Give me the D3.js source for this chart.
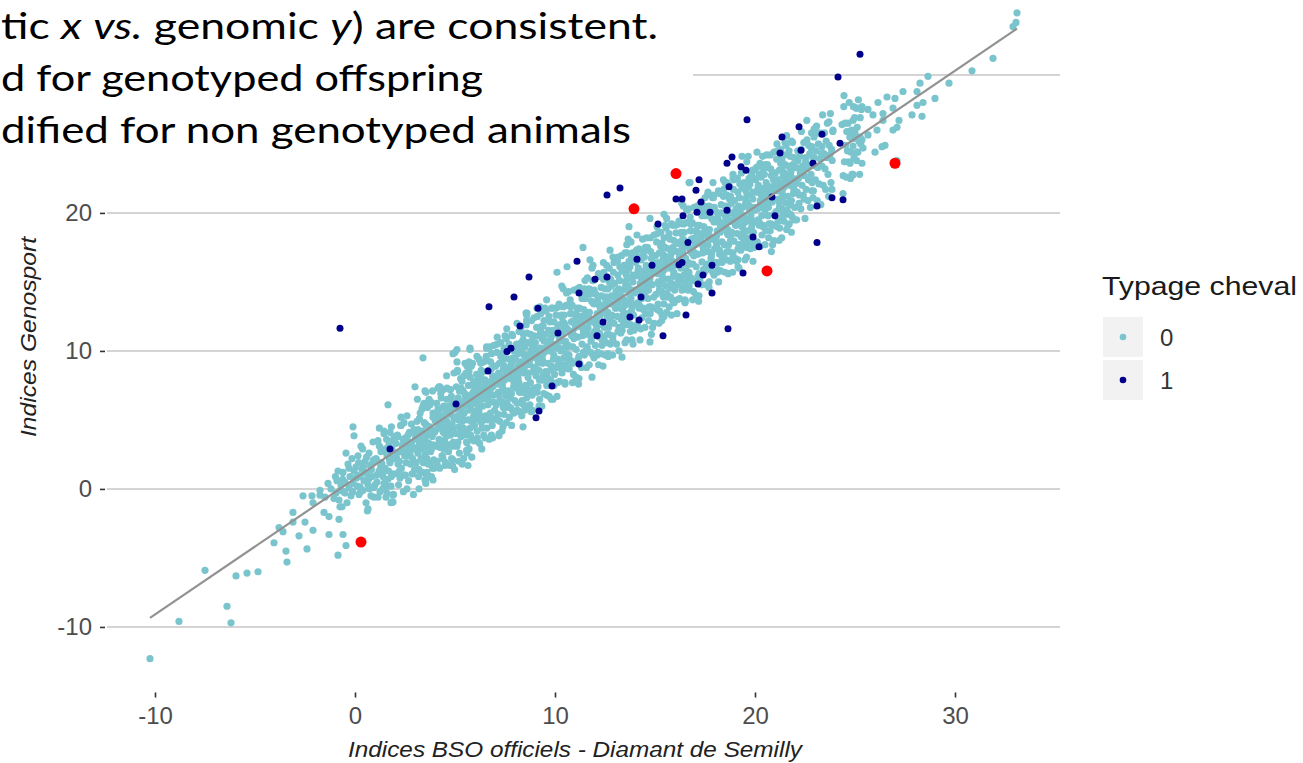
<!DOCTYPE html>
<meta charset="utf-8">
<style>
body { margin: 0; background: #fff; }
svg { display: block; }
.axis text { font-family: "Liberation Sans", Arial, sans-serif; fill: #4d4d4d; font-size: 24px; }
.axis line { stroke: #333; stroke-width: 1.6px; }
.title { font-family: "Liberation Sans", Arial, sans-serif; font-style: italic; font-size: 22px; fill: #222; }
.slide { font-family: Lato, "Open Sans", sans-serif; font-size: 36px; fill: #000; }
</style>
<body>

<script src="https://cdn.jsdelivr.net/npm/d3@7"></script>

<script>

// ---- data ----

// Typage cheval = 0, dense band along the diagonal
var lightCore = [
  [-0.95,-0.3],[-0.9,0.6],[-0.8,-0.8],[-0.7,0.3],[-0.6,1.2],[-0.55,-0.2],[-0.5,0.5],[-0.4,-1.0],[-0.35,1.8],[-0.3,0.1],[-0.25,0.9],[-0.2,-0.5],[-0.15,2.2],[-0.1,0.4],[-0.05,1.3],[-0.85,1.3],[-0.65,-1.3],[-0.45,2.6],
  [-0.98,0.9],[-0.75,-0.1],[-0.62,0.7],[-0.3,1.5],[-0.12,-0.2],[-1.2,0.0],[-1.5,-0.6],[-1.05,-0.7],
  [0.05,1.6],[0.1,0.2],[0.15,2.4],[0.2,-0.4],[0.25,0.9],[0.3,3.1],[0.35,1.4],[0.4,-0.1],[0.45,0.6],[0.5,2.0],[0.55,-1.0],[0.6,1.1],[0.65,0.3],[0.7,2.6],[0.75,1.7],[0.8,-0.5],[0.85,0.9],[0.9,3.4],[0.95,0.1],[0.12,1.0],[0.38,2.9],[0.62,-1.6],[0.88,1.9],[0.48,1.2],[0.72,0.0],
  [0.07,0.8],[0.18,1.9],[0.28,-0.2],[0.42,1.6],[0.58,2.3],[0.68,0.7],[0.82,1.4],[0.93,2.1],
  [1.05,2.2],[1.1,0.5],[1.15,3.5],[1.2,1.3],[1.25,-0.2],[1.3,2.7],[1.35,1.8],[1.4,0.9],[1.45,4.0],[1.5,1.5],[1.55,-0.6],[1.6,2.4],[1.65,0.7],[1.7,3.2],[1.75,1.9],[1.8,0.2],[1.85,2.9],[1.9,1.1],[1.95,3.8],[1.08,1.0],[1.22,4.4],[1.38,0.0],[1.52,2.9],[1.68,1.3],[1.82,4.5],[1.92,-0.4],[1.28,1.6],[1.58,3.6],[1.72,2.3],[1.45,0.4],
  [2.02,2.6],[2.08,1.1],[2.12,3.9],[2.18,0.3],[2.22,2.0],[2.28,4.6],[2.32,1.5],[2.38,3.0],[2.42,-0.2],[2.48,2.4],[2.52,1.0],[2.58,3.5],[2.62,2.8],[2.68,0.6],[2.72,4.1],[2.78,1.8],[2.82,3.3],[2.88,2.2],[2.92,-0.4],[2.98,1.4],[2.05,3.3],[2.15,1.8],[2.25,0.8],[2.35,2.7],[2.45,4.8],[2.55,1.9],[2.65,3.9],[2.75,2.5],[2.85,1.1],[2.95,4.3],[2.4,3.6],[2.6,0.0],[2.7,3.1],[2.9,2.9],[2.3,5.2],
  [3.02,3.6],[3.06,1.9],[3.1,4.9],[3.14,2.6],[3.18,0.9],[3.22,3.4],[3.26,5.5],[3.3,2.2],[3.34,4.2],[3.38,1.2],[3.42,3.0],[3.46,4.8],[3.5,2.5],[3.54,0.4],[3.58,3.9],[3.62,5.9],[3.66,1.8],[3.7,3.3],[3.74,4.5],[3.78,2.7],[3.82,0.9],[3.86,3.8],[3.9,5.2],[3.94,2.1],[3.98,4.1],[3.08,3.0],[3.2,1.4],[3.32,3.8],[3.44,2.0],[3.56,4.6],[3.68,2.9],[3.8,6.3],[3.92,3.2],[3.15,4.3],[3.4,6.0],[3.6,1.2],[3.75,4.0],[3.88,1.5],[3.28,2.9],[3.52,3.5],
  [4.02,4.9],[4.05,3.1],[4.08,6.2],[4.11,2.0],[4.14,4.4],[4.17,5.6],[4.2,3.6],[4.23,1.5],[4.26,4.8],[4.29,6.9],[4.32,3.0],[4.35,5.3],[4.38,2.4],[4.41,4.1],[4.44,6.0],[4.47,3.5],[4.5,5.0],[4.53,1.9],[4.56,4.5],[4.59,6.5],[4.62,3.2],[4.65,5.6],[4.68,2.7],[4.71,4.2],[4.74,7.2],[4.77,3.9],[4.8,5.4],[4.83,2.2],[4.86,4.7],[4.89,6.3],[4.92,3.4],[4.95,5.1],[4.98,1.4],[4.1,5.2],[4.25,3.0],[4.4,5.9],[4.55,3.8],[4.7,6.0],[4.85,5.9],[4.3,4.5],[4.6,4.9],[4.9,4.4],[4.15,7.3],[4.45,2.9],[4.75,1.7],
  [5.02,5.8],[5.04,4.0],[5.07,7.4],[5.1,3.1],[5.13,5.3],[5.16,6.6],[5.19,4.5],[5.22,2.6],[5.25,5.9],[5.28,8.0],[5.31,3.8],[5.34,6.3],[5.37,4.9],[5.4,7.1],[5.43,2.2],[5.46,5.5],[5.49,6.9],[5.52,4.2],[5.55,8.4],[5.58,3.4],[5.61,6.1],[5.64,5.0],[5.67,7.5],[5.7,2.9],[5.73,5.7],[5.76,4.4],[5.79,6.8],[5.82,8.9],[5.85,3.6],[5.88,6.4],[5.91,5.2],[5.94,7.8],[5.97,4.6],[5.06,6.1],[5.18,5.0],[5.3,7.3],[5.42,4.4],[5.54,6.5],[5.66,3.9],[5.78,5.9],[5.9,7.0],[5.12,8.6],[5.36,1.8],[5.6,8.9],[5.84,2.3],[5.24,4.1],[5.48,6.0],[5.72,6.5],[5.96,5.6],[5.33,5.6],
  [6.02,6.9],[6.05,5.1],[6.08,8.3],[6.11,4.2],[6.14,6.4],[6.17,7.7],[6.2,5.6],[6.23,3.3],[6.26,7.0],[6.29,9.1],[6.32,4.8],[6.35,7.3],[6.38,6.0],[6.41,8.5],[6.44,3.9],[6.47,6.6],[6.5,7.9],[6.53,5.3],[6.56,9.6],[6.59,4.4],[6.62,7.1],[6.65,6.1],[6.68,8.6],[6.71,3.6],[6.74,6.8],[6.77,5.5],[6.8,7.8],[6.83,9.8],[6.86,4.6],[6.89,7.4],[6.92,6.3],[6.95,8.9],[6.98,5.7],[6.04,7.4],[6.16,6.0],[6.28,8.1],[6.4,5.2],[6.52,7.0],[6.64,5.0],[6.76,7.2],[6.88,8.2],[6.1,9.6],[6.34,2.9],[6.58,10.3],[6.82,3.9],[6.22,5.0],[6.46,7.4],[6.7,7.7],[6.94,6.8],[6.36,6.5],
  [7.03,8.9],[7.06,6.1],[7.09,9.9],[7.12,5.0],[7.15,7.6],[7.18,8.4],[7.21,6.8],[7.24,4.9],[7.27,8.1],[7.3,10.6],[7.33,6.3],[7.36,9.2],[7.39,7.3],[7.42,8.7],[7.45,5.4],[7.48,7.9],[7.51,9.5],[7.54,6.7],[7.57,10.9],[7.6,5.9],[7.63,8.2],[7.66,7.1],[7.69,9.4],[7.72,5.2],[7.75,8.0],[7.78,6.6],[7.81,9.0],[7.84,11.2],[7.87,5.7],[7.9,8.5],[7.93,7.4],[7.96,10.0],[7.99,6.4],[7.05,7.9],[7.17,7.0],[7.29,9.6],[7.41,6.0],[7.53,8.3],[7.65,6.0],[7.77,8.8],[7.89,9.3],[7.11,11.0],[7.35,4.2],[7.59,11.6],[7.83,4.6],[7.23,6.4],[7.47,8.9],[7.71,8.4],[7.95,7.7],[7.37,7.6],
  [8.02,9.4],[8.05,7.3],[8.08,10.5],[8.11,6.2],[8.14,8.9],[8.17,10.1],[8.2,7.7],[8.23,5.6],[8.26,9.2],[8.29,11.6],[8.32,7.0],[8.35,9.9],[8.38,8.4],[8.41,10.8],[8.44,6.1],[8.47,8.8],[8.5,10.3],[8.53,7.5],[8.56,11.9],[8.59,6.6],[8.62,9.1],[8.65,8.1],[8.68,10.6],[8.71,5.9],[8.74,9.0],[8.77,7.7],[8.8,10.0],[8.83,12.2],[8.86,6.8],[8.89,9.6],[8.92,8.5],[8.95,11.1],[8.98,7.3],[8.04,8.6],[8.16,8.0],[8.28,10.4],[8.4,7.2],[8.52,9.2],[8.64,7.0],[8.76,9.8],[8.88,10.3],[8.1,12.0],[8.34,5.3],[8.58,12.6],[8.82,5.6],[8.22,7.0],[8.46,9.7],[8.7,9.5],[8.94,8.8],[8.36,8.5],
  [9.02,10.6],[9.05,8.2],[9.08,11.7],[9.11,7.0],[9.14,9.8],[9.17,11.1],[9.2,8.6],[9.23,6.5],[9.26,10.2],[9.29,12.7],[9.32,7.9],[9.35,10.9],[9.38,9.3],[9.41,11.8],[9.44,6.9],[9.47,9.9],[9.5,11.2],[9.53,8.5],[9.56,12.9],[9.59,7.5],[9.62,10.1],[9.65,9.1],[9.68,11.5],[9.71,6.7],[9.74,10.0],[9.77,8.6],[9.8,11.0],[9.83,13.1],[9.86,7.7],[9.89,10.5],[9.92,9.4],[9.95,12.1],[9.98,8.3],[9.04,9.5],[9.16,9.1],[9.28,11.4],[9.4,8.2],[9.52,10.2],[9.64,8.0],[9.76,10.7],[9.88,11.3],[9.1,13.1],[9.34,6.0],[9.58,13.7],[9.82,6.5],[9.22,7.9],[9.46,10.7],[9.7,10.6],[9.94,9.7],[9.36,9.6],
  [10.02,10.4],[10.05,12.6],[10.08,8.8],[10.11,11.2],[10.14,9.4],[10.17,13.2],[10.2,10.2],[10.23,7.8],[10.26,11.9],[10.29,10.0],[10.32,12.5],[10.35,8.6],[10.38,11.3],[10.41,14.5],[10.44,9.5],[10.47,12.0],[10.5,7.6],[10.53,10.7],[10.56,13.3],[10.59,9.5],[10.62,11.6],[10.65,10.3],[10.68,14.3],[10.71,8.7],[10.74,11.4],[10.77,12.7],[10.8,9.3],[10.83,11.1],[10.86,13.3],[10.89,10.3],[10.92,8.3],[10.95,12.2],[10.98,11.1],[10.04,13.1],[10.16,9.0],[10.28,11.1],[10.4,12.1],[10.52,10.3],[10.64,8.7],[10.76,13.7],[10.88,11.4],[10.1,6.7],[10.34,14.7],[10.58,9.8],[10.82,12.1],[10.22,10.8],[10.46,12.6],[10.7,9.7],[10.94,10.9],[10.36,11.5],
  [11.98,11.4],[11.95,13.4],[11.92,15.1],[11.89,9.7],[11.86,12.1],[11.83,13.6],[11.8,10.7],[11.77,14.4],[11.74,12.3],[11.71,9.0],[11.68,12.7],[11.65,11.65],[11.62,15.3],[11.59,10.2],[11.56,12.5],[11.53,13.8],[11.5,11.2],[11.47,9.7],[11.44,13.0],[11.41,11.8],[11.38,14.3],[11.35,10.5],[11.32,8.8],[11.29,12.5],[11.26,11.8],[11.23,14.6],[11.2,9.6],[11.17,12.0],[11.14,11.0],[11.11,13.1],[11.08,12.6],[11.05,8.1],[11.02,11.7],[11.96,14.4],[11.84,11.1],[11.72,12.8],[11.6,10.3],[11.48,14.5],[11.36,11.7],[11.24,9.1],[11.12,13.0],[11.9,16.2],[11.66,11.2],[11.42,11.4],[11.18,7.6],[11.78,14.4],[11.54,12.8],[11.3,12.2],[11.06,10.1],[11.64,12.2],
  [12.98,14.9],[12.95,12.0],[12.92,15.7],[12.89,10.8],[12.86,13.4],[12.83,14.0],[12.8,12.4],[12.77,10.5],[12.74,13.5],[12.71,16.0],[12.68,11.7],[12.65,14.5],[12.62,12.5],[12.59,13.9],[12.56,10.6],[12.53,12.9],[12.5,14.5],[12.47,11.7],[12.44,15.7],[12.41,10.7],[12.38,13.0],[12.35,11.9],[12.32,14.0],[12.29,9.8],[12.26,12.6],[12.23,11.0],[12.2,13.4],[12.17,15.6],[12.14,9.9],[12.11,12.7],[12.08,11.6],[12.05,14.1],[12.02,10.4],[12.96,13.9],[12.84,12.6],[12.72,15.0],[12.6,11.2],[12.48,13.3],[12.36,10.8],[12.24,13.2],[12.12,13.5],[12.9,16.8],[12.66,9.6],[12.42,16.4],[12.18,9.0],[12.78,12.0],[12.54,13.9],[12.3,13.0],[12.06,11.9],[12.64,12.8],
  [13.98,14.4],[13.95,16.5],[13.92,12.6],[13.89,15.0],[13.86,13.2],[13.83,16.8],[13.8,13.8],[13.77,11.4],[13.74,15.3],[13.71,13.4],[13.68,15.9],[13.65,11.9],[13.62,14.5],[13.59,17.7],[13.56,12.7],[13.53,15.0],[13.5,10.6],[13.47,13.7],[13.44,16.1],[13.41,12.3],[13.38,14.4],[13.35,13.0],[13.32,16.9],[13.29,11.3],[13.26,14.0],[13.23,15.1],[13.2,11.7],[13.17,13.5],[13.14,15.5],[13.11,12.5],[13.08,10.5],[13.05,14.3],[13.02,13.1],[13.96,17.1],[13.84,12.6],[13.72,14.5],[13.6,15.3],[13.48,13.3],[13.36,11.5],[13.24,16.1],[13.12,13.6],[13.9,10.5],[13.66,18.1],[13.42,12.6],[13.18,14.5],[13.78,14.4],[13.54,15.6],[13.3,12.3],[13.06,13.1],[13.64,14.7],
  [14.02,13.4],[14.05,15.45],[14.08,17.3],[14.11,11.9],[14.14,14.3],[14.17,16.0],[14.2,13.1],[14.23,16.8],[14.26,14.9],[14.29,11.6],[14.32,15.3],[14.35,14.4],[14.38,18.1],[14.41,13.0],[14.44,15.3],[14.47,16.8],[14.5,14.2],[14.53,12.7],[14.56,16.2],[14.59,15.0],[14.62,17.5],[14.65,13.8],[14.68,12.2],[14.71,15.9],[14.74,15.2],[14.77,18.2],[14.8,13.2],[14.83,15.6],[14.86,14.8],[14.89,16.9],[14.92,16.4],[14.95,12.0],[14.98,15.7],[14.04,16.4],[14.16,13.5],[14.28,15.4],[14.4,13.1],[14.52,17.5],[14.64,14.9],[14.76,12.7],[14.88,16.8],[14.1,18.4],[14.34,13.8],[14.58,14.6],[14.82,11.2],[14.22,16.8],[14.46,15.8],[14.7,15.6],[14.94,13.9],[14.36,15.0],
  [15.02,16.9],[15.05,14.1],[15.08,17.9],[15.11,13.0],[15.14,15.6],[15.17,16.4],[15.2,14.8],[15.23,12.9],[15.26,16.1],[15.29,18.6],[15.32,14.3],[15.35,17.15],[15.38,15.3],[15.41,16.7],[15.44,13.4],[15.47,15.9],[15.5,17.5],[15.53,14.7],[15.56,18.9],[15.59,13.9],[15.62,16.2],[15.65,15.2],[15.68,17.4],[15.71,13.2],[15.74,16.0],[15.77,14.6],[15.8,17.0],[15.83,19.2],[15.86,13.7],[15.89,16.5],[15.92,15.4],[15.95,18.0],[15.98,14.4],[15.04,15.9],[15.16,15.0],[15.28,17.6],[15.4,14.0],[15.52,16.3],[15.64,14.0],[15.76,16.8],[15.88,17.3],[15.1,19.0],[15.34,12.2],[15.58,19.6],[15.82,12.6],[15.22,14.4],[15.46,16.9],[15.7,16.4],[15.94,15.7],[15.36,15.6],
  [16.02,16.4],[16.05,18.55],[16.08,14.8],[16.11,17.2],[16.14,15.4],[16.17,19.2],[16.2,16.2],[16.23,13.8],[16.26,17.9],[16.29,16.0],[16.32,18.5],[16.35,14.55],[16.38,17.3],[16.41,20.5],[16.44,15.5],[16.47,18.0],[16.5,13.6],[16.53,16.7],[16.56,19.3],[16.59,15.5],[16.62,17.6],[16.65,16.25],[16.68,20.3],[16.71,14.7],[16.74,17.4],[16.77,18.7],[16.8,15.3],[16.83,17.1],[16.86,19.3],[16.89,16.3],[16.92,14.3],[16.95,18.15],[16.98,17.1],[16.04,19.1],[16.16,15.0],[16.28,17.1],[16.4,18.1],[16.52,16.3],[16.64,14.7],[16.76,19.7],[16.88,17.4],[16.1,12.7],[16.34,20.7],[16.58,15.8],[16.82,18.1],[16.22,16.8],[16.46,18.6],[16.7,15.7],[16.94,16.9],[16.36,17.5],
  [17.98,17.4],[17.95,19.35],[17.92,21.1],[17.89,15.7],[17.86,18.1],[17.83,19.6],[17.8,16.7],[17.77,20.4],[17.74,18.3],[17.71,15.0],[17.68,18.7],[17.65,17.65],[17.62,21.3],[17.59,16.2],[17.56,18.5],[17.53,19.8],[17.5,17.2],[17.47,15.7],[17.44,19.0],[17.41,17.8],[17.38,20.3],[17.35,16.45],[17.32,14.8],[17.29,18.5],[17.26,17.8],[17.23,20.6],[17.2,15.6],[17.17,18.0],[17.14,17.0],[17.11,19.1],[17.08,18.6],[17.05,14.05],[17.02,17.7],[17.96,20.4],[17.84,17.1],[17.72,18.8],[17.6,16.3],[17.48,20.5],[17.36,17.7],[17.24,15.1],[17.12,19.0],[17.9,22.2],[17.66,17.2],[17.42,17.4],[17.18,13.6],[17.78,20.4],[17.54,18.8],[17.3,18.2],[17.06,16.1],[17.64,18.2],
  [18.98,20.9],[18.95,17.95],[18.92,21.7],[18.89,16.8],[18.86,19.4],[18.83,20.0],[18.8,18.4],[18.77,16.5],[18.74,19.5],[18.71,22.0],[18.68,17.7],[18.65,20.5],[18.62,18.5],[18.59,19.9],[18.56,16.6],[18.53,18.9],[18.5,20.5],[18.47,17.7],[18.44,21.7],[18.41,16.7],[18.38,19.0],[18.35,17.9],[18.32,20.0],[18.29,15.8],[18.26,18.6],[18.23,17.0],[18.2,19.4],[18.17,21.6],[18.14,15.9],[18.11,18.7],[18.08,17.6],[18.05,20.1],[18.02,16.4],[18.96,19.9],[18.84,18.6],[18.72,21.0],[18.6,17.2],[18.48,19.3],[18.36,16.8],[18.24,19.2],[18.12,19.5],[18.9,22.8],[18.66,15.6],[18.42,22.4],[18.18,15.0],[18.78,18.0],[18.54,19.9],[18.3,19.0],[18.06,17.9],[18.64,18.8],
  [19.98,20.4],[19.95,22.5],[19.92,18.6],[19.89,21.0],[19.86,19.2],[19.83,22.8],[19.8,19.8],[19.77,17.4],[19.74,21.3],[19.71,19.4],[19.68,21.9],[19.65,17.9],[19.62,20.5],[19.59,23.7],[19.56,18.7],[19.53,21.0],[19.5,16.6],[19.47,19.7],[19.44,22.1],[19.41,18.3],[19.38,20.4],[19.35,19.0],[19.32,22.9],[19.29,17.3],[19.26,20.0],[19.23,21.1],[19.2,17.7],[19.17,19.5],[19.14,21.5],[19.11,18.5],[19.08,16.5],[19.05,20.3],[19.02,19.1],[19.96,23.1],[19.84,18.6],[19.72,20.5],[19.6,21.3],[19.48,19.3],[19.36,17.5],[19.24,22.1],[19.12,19.6],[19.9,16.5],[19.66,24.1],[19.42,18.6],[19.18,20.5],[19.78,20.4],[19.54,21.6],[19.3,18.3],[19.06,19.1],[19.64,20.7],
  [20.02,19.4],[20.05,21.5],[20.08,23.3],[20.11,17.9],[20.14,20.3],[20.17,22.0],[20.2,19.1],[20.23,22.8],[20.26,20.9],[20.29,17.6],[20.32,21.3],[20.35,20.4],[20.38,24.1],[20.41,19.0],[20.44,21.3],[20.47,22.8],[20.5,20.2],[20.53,18.7],[20.56,22.2],[20.59,21.0],[20.62,23.5],[20.65,19.8],[20.68,18.2],[20.71,21.9],[20.74,21.2],[20.77,24.2],[20.8,19.2],[20.83,21.6],[20.86,20.8],[20.89,22.9],[20.92,22.4],[20.95,18.0],[20.98,21.7],[20.04,22.4],[20.16,19.5],[20.28,21.4],[20.4,19.1],[20.52,23.5],[20.64,20.9],[20.76,18.7],[20.88,22.8],[20.1,24.4],[20.34,19.8],[20.58,20.6],[20.82,17.2],[20.22,22.8],[20.46,21.8],[20.7,21.6],[20.94,19.9],[20.36,21.0],
  [21.02,22.9],[21.05,20.1],[21.08,23.9],[21.11,19.0],[21.14,21.6],[21.17,22.4],[21.2,20.8],[21.23,18.9],[21.26,22.1],[21.29,24.6],[21.32,20.3],[21.35,23.2],[21.38,21.3],[21.41,22.7],[21.44,19.4],[21.47,21.9],[21.5,23.5],[21.53,20.7],[21.56,24.9],[21.59,19.9],[21.62,22.2],[21.65,21.2],[21.68,23.4],[21.71,19.2],[21.74,22.0],[21.77,20.6],[21.8,23.0],[21.83,25.2],[21.86,19.7],[21.89,22.5],[21.92,21.4],[21.95,24.0],[21.98,20.4],[21.04,21.9],[21.16,21.0],[21.28,23.6],[21.4,20.0],[21.52,22.3],[21.64,20.0],[21.76,22.8],[21.88,23.3],[21.1,25.0],[21.34,18.2],[21.58,25.6],[21.82,18.6],[21.22,20.4],[21.46,22.9],[21.7,22.4],[21.94,21.7],[21.36,21.6],
  [22.98,23.4],[22.95,25.5],[22.92,21.6],[22.89,24.0],[22.86,22.2],[22.83,25.8],[22.8,22.8],[22.77,20.4],[22.74,24.3],[22.71,22.4],[22.68,24.9],[22.65,20.9],[22.62,23.5],[22.59,26.7],[22.56,21.7],[22.53,24.0],[22.5,19.6],[22.47,22.7],[22.44,25.1],[22.41,21.3],[22.38,23.4],[22.35,22.0],[22.32,25.9],[22.29,20.3],[22.26,23.0],[22.23,24.1],[22.2,20.7],[22.17,22.5],[22.14,24.5],[22.11,21.5],[22.08,19.5],[22.05,23.3],[22.02,22.1],[22.96,26.1],[22.84,21.6],
  [23.02,22.4],[23.05,24.5],[23.08,26.3],[23.11,20.9],[23.14,23.3],[23.17,25.0],[23.2,22.1],[23.23,25.8],[23.26,23.9],[23.29,20.6],[23.32,24.3],[23.35,23.4],[23.38,27.1],[23.41,22.0],[23.44,24.3],[23.47,25.8],[23.5,23.2],[23.53,21.7],[23.56,25.2],[23.59,24.0],[23.62,26.5],[23.65,22.8],[23.68,21.2],[23.71,24.9],[23.74,24.2],[23.77,27.2],[23.8,22.2],[23.83,24.6],[23.86,23.8],[23.89,25.9],
  [24.98,26.9],[24.95,24.0],[24.92,27.7],[24.89,22.8],[24.86,25.4],[24.83,26.0],[24.8,24.4],[24.77,22.5],[24.74,25.5],[24.71,28.0],[24.68,23.7],[24.65,26.5],[24.62,24.5],[24.59,25.9],[24.56,22.6],[24.53,24.9],[24.5,26.5],[24.47,23.7],[24.44,27.7],[24.41,22.7],
  [25.02,25.4],[25.05,27.6],[25.08,23.8],[25.11,26.2],[25.14,24.4],[25.17,28.2],[25.2,25.2],[25.23,22.8],[25.26,26.9],[25.29,25.0],[25.32,27.5],[25.35,23.6]
];

// Typage cheval = 0, second pass over the middle of the band (it is almost solid there)
var lightMid = [
  [1.97,2.2],[1.9,3.5],[1.82,0.9],[1.75,4.1],[1.67,2.5],[1.6,0.2],[1.53,2.7],[1.45,4.2],[1.38,1.1],[1.31,1.9],[1.22,3.1],[1.15,-0.6],[1.07,2.1],[1.73,2.1],
  [2.07,2.3],[2.15,3.8],[2.22,1.3],[2.31,4.6],[2.38,3.2],[2.45,1.0],[2.53,3.7],[2.6,5.3],[2.67,2.4],[2.75,3.4],[2.82,4.7],[2.9,1.1],[2.97,4.0],[2.27,2.7],
  [3.97,4.2],[3.9,5.5],[3.82,2.9],[3.75,6.1],[3.67,4.5],[3.6,2.2],[3.53,4.7],[3.45,6.2],[3.38,3.1],[3.31,3.9],[3.22,5.1],[3.15,1.4],[3.07,4.1],[3.73,4.1],
  [4.07,4.3],[4.15,5.8],[4.22,3.3],[4.31,6.6],[4.38,5.2],[4.45,3.0],[4.53,5.7],[4.6,7.3],[4.67,4.4],[4.75,5.4],[4.82,6.7],[4.9,3.1],[4.97,6.0],[4.27,4.7],
  [5.97,6.2],[5.9,7.5],[5.82,4.9],[5.75,8.1],[5.67,6.5],[5.6,4.2],[5.53,6.7],[5.45,8.2],[5.38,5.1],[5.31,5.9],[5.22,7.1],[5.15,3.4],[5.07,6.1],[5.73,6.1],
  [6.07,6.3],[6.15,7.8],[6.22,5.3],[6.31,8.6],[6.38,7.2],[6.45,5.0],[6.53,7.7],[6.6,9.3],[6.67,6.4],[6.75,7.4],[6.82,8.7],[6.9,5.1],[6.97,8.0],[6.27,6.7],
  [7.97,8.2],[7.9,9.5],[7.82,6.9],[7.75,10.1],[7.67,8.5],[7.6,6.2],[7.53,8.7],[7.45,10.2],[7.38,7.1],[7.31,7.9],[7.22,9.1],[7.15,5.4],[7.07,8.1],[7.73,8.1],
  [8.07,8.3],[8.15,9.8],[8.22,7.3],[8.31,10.6],[8.38,9.2],[8.45,7.0],[8.53,9.7],[8.6,11.3],[8.67,8.4],[8.75,9.4],[8.82,10.7],[8.9,7.1],[8.97,10.0],[8.27,8.7],
  [9.97,10.2],[9.9,11.5],[9.82,8.9],[9.75,12.1],[9.67,10.5],[9.6,8.2],[9.53,10.7],[9.45,12.2],[9.38,9.1],[9.31,9.9],[9.22,11.1],[9.15,7.4],[9.07,10.1],[9.73,10.1],
  [10.07,10.3],[10.15,11.8],[10.22,9.3],[10.31,12.6],[10.38,11.2],[10.45,9.0],[10.53,11.7],[10.6,13.3],[10.67,10.4],[10.75,11.4],[10.82,12.7],[10.9,9.1],[10.97,12.0],[10.27,10.7],
  [11.97,12.2],[11.9,13.5],[11.82,10.9],[11.75,14.1],[11.67,12.5],[11.6,10.2],[11.53,12.7],[11.45,14.2],[11.38,11.1],[11.31,11.9],[11.22,13.1],[11.15,9.4],[11.07,12.1],[11.73,12.1],
  [12.07,12.3],[12.15,13.8],[12.22,11.3],[12.31,14.6],[12.38,13.2],[12.45,11.0],[12.53,13.7],[12.6,15.3],[12.67,12.4],[12.75,13.4],[12.82,14.7],[12.9,11.1],[12.97,14.0],[12.27,12.7],
  [13.97,14.2],[13.9,15.5],[13.82,12.9],[13.75,16.1],[13.67,14.5],[13.6,12.2],[13.53,14.7],[13.45,16.2],[13.38,13.1],[13.31,13.9],[13.22,15.1],[13.15,11.4],[13.07,14.1],[13.73,14.1],
  [14.07,14.3],[14.15,15.8],[14.22,13.3],[14.31,16.6],[14.38,15.2],[14.45,13.0],[14.53,15.7],[14.6,17.3],[14.67,14.4],[14.75,15.4],[14.82,16.7],[14.9,13.1],[14.97,16.0],[14.27,14.7],
  [15.97,16.2],[15.9,17.5],[15.82,14.9],[15.75,18.1],[15.67,16.5],[15.6,14.2],[15.53,16.7],[15.45,18.2],[15.38,15.1],[15.31,15.9],[15.22,17.1],[15.15,13.4],[15.07,16.1],[15.73,16.1],
  [16.07,16.3],[16.15,17.8],[16.22,15.3],[16.31,18.6],[16.38,17.2],[16.45,15.0],[16.53,17.7],[16.6,19.3],[16.67,16.4],[16.75,17.4],[16.82,18.7],[16.9,15.1],[16.97,18.0],[16.27,16.7],
  [17.97,18.2],[17.9,19.5],[17.82,16.9],[17.75,20.1],[17.67,18.5],[17.6,16.2],[17.53,18.7],[17.45,20.2],[17.38,17.1],[17.31,17.9],[17.22,19.1],[17.15,15.4],[17.07,18.1],[17.73,18.1],
  [18.07,18.3],[18.15,19.8],[18.22,17.3],[18.31,20.6],[18.38,19.2],[18.45,17.0],[18.53,19.7],[18.6,21.3],[18.67,18.4],[18.75,19.4],[18.82,20.7],[18.9,17.1],[18.97,20.0],[18.27,18.7],
  [19.97,20.2],[19.9,21.5],[19.82,18.9],[19.75,22.1],[19.67,20.5],[19.6,18.2],[19.53,20.7],[19.45,22.2],[19.38,19.1],[19.31,19.9],[19.22,21.1],[19.15,17.4],[19.07,20.1],[19.73,20.1],
  [20.07,20.3],[20.15,21.8],[20.22,19.3],[20.31,22.6],[20.38,21.2],[20.45,19.0],[20.53,21.7],[20.6,23.3],[20.67,20.4],[20.75,21.4],[20.82,22.7],[20.9,19.1],[20.97,22.0],[20.27,20.7],
  [21.97,22.2],[21.9,23.5],[21.82,20.9],[21.75,24.1],[21.67,22.5],[21.6,20.2],[21.53,22.7],[21.45,24.2],[21.38,21.1],[21.31,21.9],[21.22,23.1],[21.15,19.4],[21.07,22.1],[21.73,22.1],
  [22.07,22.3],[22.15,23.8],[22.22,21.3],[22.31,24.6],[22.38,23.2],[22.45,21.0],[22.53,23.7],[22.6,25.3],[22.67,22.4],[22.75,23.4],[22.82,24.7],[22.9,21.1],[22.97,24.0],[22.27,22.7]
];

// Typage cheval = 0, the outer edges of the band
var lightEdge = [
  [3.95,1.5],[3.88,7.1],[3.78,1.9],[3.7,6.5],[3.58,0.8],[3.5,7.1],[3.42,1.9],[3.35,5.8],[3.2,0.0],[3.12,6.5],
  [4.12,1.7],[4.2,7.4],[4.35,2.4],[4.42,7.2],[4.5,1.7],[4.58,8.2],[4.7,3.2],[4.78,7.2],[4.88,1.7],[4.95,8.4],
  [5.95,3.5],[5.88,9.1],[5.78,3.9],[5.7,8.5],[5.58,2.8],[5.5,9.1],[5.42,3.9],[5.35,7.8],[5.2,2.0],[5.12,8.5],
  [6.12,3.7],[6.2,9.4],[6.35,4.4],[6.42,9.2],[6.5,3.7],[6.58,10.2],[6.7,5.2],[6.78,9.2],[6.88,3.7],[6.95,10.4],
  [7.95,5.5],[7.88,11.1],[7.78,5.9],[7.7,10.5],[7.58,4.8],[7.5,11.1],[7.42,5.9],[7.35,9.8],[7.2,4.0],[7.12,10.5],
  [8.12,5.7],[8.2,11.4],[8.35,6.4],[8.42,11.2],[8.5,5.7],[8.58,12.2],[8.7,7.2],[8.78,11.2],[8.88,5.7],[8.95,12.4],
  [9.95,7.5],[9.88,13.1],[9.78,7.9],[9.7,12.5],[9.58,6.8],[9.5,13.1],[9.42,7.9],[9.35,11.8],[9.2,6.0],[9.12,12.5],
  [10.12,7.7],[10.2,13.4],[10.35,8.4],[10.42,13.2],[10.5,7.7],[10.58,14.2],[10.7,9.2],[10.78,13.2],[10.88,7.7],[10.95,14.4],
  [11.95,9.5],[11.88,15.1],[11.78,9.9],[11.7,14.5],[11.58,8.8],[11.5,15.1],[11.42,9.9],[11.35,13.8],[11.2,8.0],[11.12,14.5],
  [12.12,9.7],[12.2,15.4],[12.35,10.4],[12.42,15.2],[12.5,9.7],[12.58,16.2],[12.7,11.2],[12.78,15.2],[12.88,9.7],[12.95,16.4],
  [13.95,11.5],[13.88,17.1],[13.78,11.9],[13.7,16.5],[13.58,10.8],[13.5,17.1],[13.42,11.9],[13.35,15.8],[13.2,10.0],[13.12,16.5],
  [14.12,11.7],[14.2,17.4],[14.35,12.4],[14.42,17.2],[14.5,11.7],[14.58,18.2],[14.7,13.2],[14.78,17.2],[14.88,11.7],[14.95,18.4],
  [15.95,13.5],[15.88,19.1],[15.78,13.9],[15.7,18.5],[15.58,12.8],[15.5,19.1],[15.42,13.9],[15.35,17.8],[15.2,12.0],[15.12,18.5],
  [16.12,13.7],[16.2,19.4],[16.35,14.4],[16.42,19.2],[16.5,13.7],[16.58,20.2],[16.7,15.2],[16.78,19.2],[16.88,13.7],[16.95,20.4],
  [17.95,15.5],[17.88,21.1],[17.78,15.9],[17.7,20.5],[17.58,14.8],[17.5,21.1],[17.42,15.9],[17.35,19.8],[17.2,14.0],[17.12,20.5],
  [18.12,15.7],[18.2,21.4],[18.35,16.4],[18.42,21.2],[18.5,15.7],[18.58,22.2],[18.7,17.2],[18.78,21.2],[18.88,15.7],[18.95,22.4],
  [19.95,17.5],[19.88,23.1],[19.78,17.9],[19.7,22.5],[19.58,16.8],[19.5,23.1],[19.42,17.9],[19.35,21.8],[19.2,16.0],[19.12,22.5],
  [20.12,17.7],[20.2,23.4],[20.35,18.4],[20.42,23.2],[20.5,17.7],[20.58,24.2],[20.7,19.2],[20.78,23.2],[20.88,17.7],[20.95,24.4],
  [21.95,19.5],[21.88,25.1],[21.78,19.9],[21.7,24.5],[21.58,18.8],[21.5,25.1],[21.42,19.9],[21.35,23.8],[21.2,18.0],[21.12,24.5]
];

// Typage cheval = 0, scattered points away from the band
var lightFringe = [
  [-10.25,-12.3],[-8.8,-9.6],[-6.2,-9.7],[-6.4,-8.5],[-7.5,-5.9],[-5.95,-6.3],[-5.4,-6.1],[-4.85,-6.0],[-4.05,-3.9],[-3.4,-5.3],[-3.45,-4.5],[-3.8,-2.8],[-3.6,-3.1],[-2.8,-3.4],[-2.4,-4.35],[-3.1,-1.7],[-3.1,-2.4],[-2.5,-2.4],[-2.1,-3.0],[-1.3,-3.3],[-0.85,-4.8],[-0.6,-3.3],[-0.45,-4.1],[-0.8,-2.2],[-0.75,-1.3],[-1.3,-2.0],[-1.55,-1.7],[-2.6,-0.5],[-2.15,-0.5],[-2.1,-1.0],[0.65,-1.45],[0.95,-0.6],[1.9,-0.95],[-1.35,0.4],[-1.75,-0.1],[-1.75,-0.45],[-0.5,-0.3],[0.25,0.15],[1.0,0.3],[1.6,-0.3],[1.85,-0.95],
  [-0.1,4.5],[-0.05,3.85],[1.65,6.1],[3.0,7.4],[3.55,7.0],[4.25,7.4],[3.4,9.5],[4.9,9.8],[5.1,10.1],[5.75,10.1],[5.1,9.2],[5.7,9.2],[6.75,10.3],[8.6,12.75],[5.0,9.9],[5.75,10.2],[9.25,13.2],[8.55,12.75],
  [5.6,3.35],[5.6,2.6],[5.65,1.7],[4.9,2.1],[4.4,2.2],[6.0,3.5],[7.2,3.85],[7.4,4.5],[8.4,4.5],[8.35,6.2],[8.75,6.1],[9.9,6.5],[3.5,0.65],[3.9,0.65],[1.9,-0.45],[1.8,-1.0],
  [11.4,17.5],[13.7,19.0],[10.1,15.7],[10.6,16.1],[11.75,16.6],[11.85,16.0],[12.75,17.3],[13.15,16.8],[13.6,17.1],[13.8,17.9],[14.1,17.3],[14.75,19.6],[15.45,19.9],[16.7,22.2],[17.65,21.5],[18.9,22.5],
  [13.85,10.8],[14.25,10.8],[14.75,10.65],[15.35,12.6],[16.5,13.5],[17.7,14.6],[16.5,13.55],[15.45,12.5],[13.35,9.55],[12.4,8.9],[11.85,8.1],[12.65,9.8],[16.65,14.4],[18.15,16.4],[19.0,16.7],[21.65,19.1],[21.35,19.7],[19.6,17.5],[19.15,16.6],[19.15,16.1],[23.85,21.7],
  [33.1,34.5],[33.05,33.8],[32.9,33.5],[31.9,31.2],[30.85,30.3],[29.7,29.4],[28.65,29.9],[28.25,29.4],[29.0,28.3],[27.4,28.8],[28.1,28.8],[26.6,28.4],[26.15,28.0],[27.0,28.3],[28.4,28.0],[28.1,27.8],[27.85,27.1],[28.35,27.0],[26.9,27.6],[27.2,26.7],[25.35,27.7],[25.65,27.5],[25.1,27.6],[25.9,27.1],[24.45,28.5],[23.7,26.6],[23.9,26.0],[24.35,26.4],[24.9,26.7],[25.0,25.8],[25.25,25.5],[26.35,24.8],[26.5,24.9],[26.0,24.4],[26.9,26.0],[27.1,26.2],[24.85,22.8],[24.4,21.4],[23.1,25.8],[23.35,24.8],[22.85,24.8],[20.25,23.6],[22.6,23.3],[21.35,24.1],[21.75,23.3],[21.1,22.4],[19.35,24.1],[18.5,22.2],[17.9,21.3],[16.75,22.2],[26.4,27.2],[26.4,26.7],[24.75,25.9],[26.1,26.0],[25.65,25.65],[25.35,25.3],[24.9,24.85],[25.4,24.7],[25.1,24.4],[24.75,23.6],[24.9,22.75],[27.1,23.8]
];

// Typage cheval = 1
var darkPts = [
  [25.25,31.5],[24.15,29.85],[19.6,26.75],[22.2,26.25],[21.35,25.5],[24.25,25.05],[23.35,25.7],[22.3,24.55],[18.85,24.05],[18.6,23.6],[19.3,23.35],[19.55,23.1],[17.2,22.4],[17.05,21.65],[18.7,21.9],[22.9,23.6],[21.25,24.35],[17.3,20.8],[17.75,20.05],[20.85,21.15],[23.85,21.1],[24.4,20.95],[23.1,20.5],[21.0,19.8],[19.9,18.25],[20.2,17.55],[23.1,17.85],[19.4,15.65],[17.4,15.5],[18.6,20.2],
  [12.6,21.3],[13.25,21.8],[16.05,21.0],[16.35,21.0],[16.4,19.8],[17.1,20.05],[15.15,19.2],[11.1,16.5],[8.7,15.35],[7.95,13.9],[6.7,13.2],[9.15,13.1],[8.25,11.8],[12.0,15.2],[12.6,15.35],[14.1,16.65],[17.15,14.85],[17.85,14.2],[16.55,12.6],[18.65,11.6],[15.4,11.1],[13.75,12.45],[14.2,12.25],[12.1,11.1],[10.15,11.3],[7.6,9.95],[7.8,10.2],[14.3,13.9],[16.65,17.85],[16.2,16.25],[11.2,9.05],
  [-0.75,11.65],[6.65,8.55],[5.05,6.15],[1.75,2.9],[9.2,5.65],[9.05,5.15],[9.85,7.45],[11.2,14.2],[14.85,16.2],[16.35,16.4],[12.4,12.1],[17.85,16.2]
];

// highlighted animals
var redPts = [[16.05,22.85],[13.95,20.3],[27.0,23.6],[20.6,15.8],[0.3,-3.85]];

// linear fit drawn over the cloud
var fitIntercept = 0.75, fitSlope = 0.985;

var gridValues = [-10, 0, 10, 20, 30];
var yTickValues = [-10, 0, 10, 20];
var xTickValues = [-10, 0, 10, 20, 30];
var legendLevels = ["0", "1"];

var textLines = [
  [["tic ", 0], ["x", 1], [" ", 0], ["vs.", 1], [" genomic ", 0], ["y", 1], [") are consistent.", 0]],
  [["d for genotyped offspring", 0]],
  [["dified for non genotyped animals", 0]]
];
var textWidths = [657, 482, 630];

// ---- chart ----
var width = 1303, height = 763;

var svg = d3.select("body").append("svg")
    .attr("width", width)
    .attr("height", height);

var x = d3.scaleLinear().domain([-12.5, 35.4]).range([105, 1063]);
var y = d3.scaleLinear().domain([-14.75, 36.95]).range([692.5, -21]);

var color = d3.scaleOrdinal().domain(legendLevels).range(["#7ac5cd", "#00008b"]);

// plain hyphen for negatives, like the original
var plain = function(d) { return String(d); };

// horizontal grid only
svg.append("g").selectAll("line")
    .data(gridValues)
  .enter().append("line")
    .attr("x1", x(-12.4)).attr("x2", x(35.25))
    .attr("y1", function(d) { return y(d); })
    .attr("y2", function(d) { return y(d); })
    .attr("stroke", "#d4d4d4")
    .attr("stroke-width", 2);

// axes
var yAxis = svg.append("g")
    .attr("class", "axis")
    .attr("transform", "translate(" + x(-12.5) + ",0)")
    .call(d3.axisLeft(y).tickValues(yTickValues).tickFormat(plain).tickSize(5).tickPadding(8));
yAxis.select(".domain").remove();
yAxis.attr("font-size", null).attr("font-family", null);

var xAxis = svg.append("g")
    .attr("class", "axis")
    .attr("transform", "translate(0," + y(-14.75) + ")")
    .call(d3.axisBottom(x).tickValues(xTickValues).tickFormat(plain).tickSize(5).tickPadding(9));
xAxis.select(".domain").remove();
xAxis.attr("font-size", null).attr("font-family", null);

// points
var lightAll = lightCore.concat(lightMid, lightEdge, lightFringe);

svg.append("g").selectAll("circle")
    .data(lightAll)
  .enter().append("circle")
    .attr("cx", function(d) { return x(d[0]); })
    .attr("cy", function(d) { return y(d[1]); })
    .attr("r", 3.6)
    .attr("fill", color("0"));

svg.append("g").selectAll("circle")
    .data(darkPts)
  .enter().append("circle")
    .attr("cx", function(d) { return x(d[0]); })
    .attr("cy", function(d) { return y(d[1]); })
    .attr("r", 3.5)
    .attr("fill", color("1"));

// regression line over the x range of the data
var xr = d3.extent(lightAll.concat(darkPts), function(d) { return d[0]; });
svg.append("line")
    .attr("x1", x(xr[0])).attr("y1", y(fitIntercept + fitSlope * xr[0]))
    .attr("x2", x(xr[1])).attr("y2", y(fitIntercept + fitSlope * xr[1]))
    .attr("stroke", "#929292")
    .attr("stroke-width", 2.2);

svg.append("g").selectAll("circle")
    .data(redPts)
  .enter().append("circle")
    .attr("cx", function(d) { return x(d[0]); })
    .attr("cy", function(d) { return y(d[1]); })
    .attr("r", 5.5)
    .attr("fill", "#ff0000");

// axis titles
svg.append("text")
    .attr("class", "title")
    .attr("x", 348).attr("y", 757)
    .attr("textLength", 454)
    .attr("lengthAdjust", "spacingAndGlyphs")
    .text("Indices BSO officiels - Diamant de Semilly");

svg.append("text")
    .attr("class", "title")
    .attr("transform", "translate(36,437) rotate(-90)")
    .attr("textLength", 200)
    .attr("lengthAdjust", "spacingAndGlyphs")
    .text("Indices Genosport");

// legend
var legend = svg.append("g").attr("transform", "translate(1103,0)");
legend.append("text")
    .attr("x", -1).attr("y", 295)
    .attr("font-family", "Liberation Sans, Arial, sans-serif")
    .attr("font-size", 25)
    .attr("fill", "#1a1a1a")
    .attr("textLength", 195)
    .attr("lengthAdjust", "spacingAndGlyphs")
    .text("Typage cheval");

var keys = legend.selectAll(".key")
    .data(legendLevels)
  .enter().append("g")
    .attr("class", "key")
    .attr("transform", function(d, i) { return "translate(0," + (317 + i * 43) + ")"; });
keys.append("rect")
    .attr("width", 40).attr("height", 40)
    .attr("fill", "#f2f2f2");
keys.append("circle")
    .attr("cx", 20).attr("cy", 20).attr("r", 3.3)
    .attr("fill", function(d) { return color(d); });
keys.append("text")
    .attr("x", 57).attr("y", 29)
    .attr("font-family", "Liberation Sans, Arial, sans-serif")
    .attr("font-size", 24)
    .attr("fill", "#333")
    .text(function(d) { return d; });

// slide text laid over the top left of the plot
svg.append("rect")
    .attr("x", 0).attr("y", 0)
    .attr("width", 693).attr("height", 160)
    .attr("fill", "#fff");

textLines.forEach(function(line, i) {
  var t = svg.append("text")
      .attr("class", "slide")
      .attr("x", 1)
      .attr("y", 39 + i * 52)
      .attr("textLength", textWidths[i])
      .attr("lengthAdjust", "spacingAndGlyphs");
  line.forEach(function(part) {
    t.append("tspan")
      .attr("font-style", part[1] ? "italic" : "normal")
      .text(part[0]);
  });
});

</script>
</body>
